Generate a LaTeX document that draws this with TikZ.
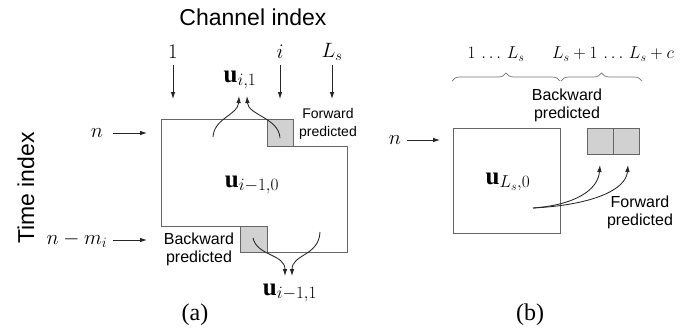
\documentclass[tikz,border=0pt]{standalone}
\usepackage{fontspec}
\setmainfont{Liberation Serif}
\newfontfamily\sansf{Liberation Sans}
\usetikzlibrary{arrows.meta,decorations.pathreplacing}
\begin{document}
\begin{tikzpicture}[x=1pt,y=-1pt,
  arr/.style={draw=black!85, line width=0.85pt, -{Latex[length=7pt,width=4.6pt]}},
  outline/.style={draw=black!60, line width=0.9pt},
  graybox/.style={draw=black!60, fill=black!18, line width=0.9pt},
  ml/.style={inner sep=0pt, font=\fontsize{20}{24}\selectfont},
  mls/.style={inner sep=0pt, font=\fontsize{18.5}{22}\selectfont},
  ul/.style={inner sep=0pt, font=\fontsize{25}{30}\selectfont},
  axis/.style={inner sep=0pt, font=\sansf\fontsize{23}{27}\selectfont},
  tl/.style={inner sep=0pt, align=center, font=\sansf\fontsize{16}{18}\selectfont},
  tls/.style={inner sep=0pt, align=center, font=\sansf\fontsize{14}{18}\selectfont},
  caplabel/.style={inner sep=0pt, font=\fontsize{24}{28}\selectfont},
  brc/.style={draw=black!55, line width=0.7pt, decorate, decoration={brace, amplitude=8pt}}
]
\useasboundingbox (0,0) rectangle (700,333);

% ---------- panel (a) ----------
\node[axis] (ch) at (253,17) {Channel index};
\node[axis, rotate=90] (ti) at (26,188) {Time index};

\node[ml] (l1) at (173,52) {$1$};
\node[ml] (li) at (280,52) {$i$};
\node[ml] (lLs) at (332,52) {$L_s$};
\coordinate (l1a) at (173,65);  \coordinate (l1b) at (173,99);
\coordinate (lia) at (280,65);  \coordinate (lib) at (280,99);
\coordinate (lLa) at (332,65);  \coordinate (lLb) at (332,99);
\draw[arr] (l1a) -- (l1b);
\draw[arr] (lia) -- (lib);
\draw[arr] (lLa) -- (lLb);

\draw[outline] (161,119) -- (293,119) -- (293,146) -- (347,146) -- (347,252)
  -- (240,252) -- (240,226) -- (161,226) -- cycle;
\draw[graybox] (267,119) rectangle (293,146);
\draw[graybox] (240,226) rectangle (267,252);

\node[ul] (u0) at (252,185) {$\mathbf{u}_{i-1,0}$};
\node[ul] (ui1) at (240,80) {$\mathbf{u}_{i,1}$};
\node[ul] (uim) at (290,293) {$\mathbf{u}_{i-1,1}$};

\node[ml] (n1) at (97,133) {$n$};
\node[ml] (nm) at (77,240) {$n-m_i$};
\coordinate (n1a) at (113,133); \coordinate (n1b) at (147,133);
\coordinate (nma) at (113,240); \coordinate (nmb) at (147,240);
\draw[arr] (n1a) -- (n1b);
\draw[arr] (nma) -- (nmb);

\node[tl] (bpa) at (199,249) {Backward\\predicted};
\node[tls] (fpa) at (328,124) {Forward\\predicted};

\coordinate (ta1) at (213,137); \coordinate (tt1) at (239,96);
\coordinate (ta2) at (280,138); \coordinate (tt2) at (247,96);
\draw[arr] (ta1) .. controls (214,118) and (238,115) .. (tt1);
\draw[arr] (ta2) .. controls (279,118) and (248,115) .. (tt2);

\coordinate (ba1) at (253,238); \coordinate (bt1) at (285,276);
\coordinate (ba2) at (320,232); \coordinate (bt2) at (292,276);
\draw[arr] (ba1) .. controls (257,256) and (285,254) .. (bt1);
\draw[arr] (ba2) .. controls (319,256) and (292,254) .. (bt2);

\node[caplabel] (capa) at (195,315) {(a)};

% ---------- panel (b) ----------
\node[mls] (r1) at (496,54) {$1\,\ldots\,L_s$};
\node[mls] (r2) at (613,54) {$L_s+1\,\ldots\,L_s+c$};
\coordinate (br1a) at (452,81); \coordinate (br1b) at (560,81);
\coordinate (br2a) at (561,81); \coordinate (br2b) at (642,81);
\draw[brc] (br1a) -- (br1b);
\draw[brc] (br2a) -- (br2b);

\node[tl] (bpb) at (567,105) {Backward\\predicted};

\node[ml] (n2) at (395,140) {$n$};
\coordinate (n2a) at (407,140); \coordinate (n2b) at (440,140);
\draw[arr] (n2a) -- (n2b);

\draw[outline] (453,128) rectangle (560,233);
\draw[graybox] (587,128) rectangle (613,154);
\draw[graybox] (613,128) rectangle (639,154);

\node[ul] (uL) at (508,182) {$\mathbf{u}_{L_s,0}$};

\coordinate (cb) at (533,208);
\coordinate (cb1) at (600,165);
\coordinate (cb2) at (628,165);
\draw[arr] (cb) .. controls (575,205) and (598,190) .. (cb1);
\draw[arr] (cb) .. controls (592,205) and (626,190) .. (cb2);

\node[tl] (fpb) at (640,212) {Forward\\predicted};

\node[caplabel] (capb) at (530,315) {(b)};
\end{tikzpicture}
\end{document}
